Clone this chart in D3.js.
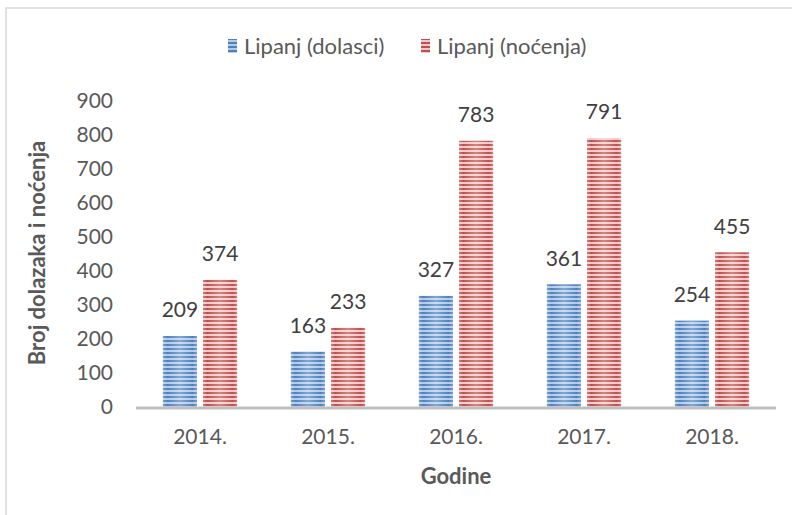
<!DOCTYPE html>
<html>
<head>
<meta charset="utf-8">
<script src="https://cdn.jsdelivr.net/npm/d3@7"></script>
<style>
    body { margin: 0; background: #fff; }
    svg { display: block; font-family: Lato, "Open Sans", sans-serif; }
</style>
</head>
<body>
<svg id="chart" width="792" height="515"></svg>
<script>
// data
var years = ['2014.', '2015.', '2016.', '2017.', '2018.'];
var seriesNames = ['Lipanj (dolasci)', 'Lipanj (noćenja)'];
var dolasci = [209, 163, 327, 361, 254];
var nocenja = [374, 233, 783, 791, 455];
var yTicks = [0, 100, 200, 300, 400, 500, 600, 700, 800, 900];

var colors = [
    { dark: '#4f81bd', light: '#b3cbea', id: 'pBlue' },
    { dark: '#c0504d', light: '#f0c9c8', id: 'pRed' }
];

var svg = d3.select('#chart');
var width = 792, height = 515;

// outer border (chart area)
svg.append('rect')
    .attr('x', 6).attr('y', 8)
    .attr('width', width).attr('height', height)
    .attr('fill', '#fff')
    .attr('stroke', '#d9d9d9')
    .attr('stroke-width', 1.5);

/*=========== striped fills ===========*/
var defs = svg.append('defs');
colors.forEach(function (c) {
    var grad = defs.append('linearGradient')
        .attr('id', c.id + 'g')
        .attr('x1', 0).attr('x2', 1).attr('y1', 0).attr('y2', 0);
    grad.append('stop').attr('offset', '0%').attr('stop-color', '#fff').attr('stop-opacity', 0.25);
    grad.append('stop').attr('offset', '12%').attr('stop-color', '#fff').attr('stop-opacity', 0.0);
    grad.append('stop').attr('offset', '50%').attr('stop-color', '#fff').attr('stop-opacity', 0.3);
    grad.append('stop').attr('offset', '88%').attr('stop-color', '#fff').attr('stop-opacity', 0.0);
    grad.append('stop').attr('offset', '100%').attr('stop-color', '#fff').attr('stop-opacity', 0.25);

    var pat = defs.append('pattern')
        .attr('id', c.id)
        .attr('patternUnits', 'userSpaceOnUse')
        .attr('width', 10).attr('height', 4);
    pat.append('rect').attr('width', 10).attr('height', 4).attr('fill', c.light);
    pat.append('rect').attr('width', 10).attr('height', 2).attr('fill', c.dark);
});

/*=========== scales ===========*/
var x = d3.scaleBand()
    .domain(years)
    .range([136, 776])
    .paddingInner(0.42)
    .paddingOuter(0.21);

var xInner = d3.scaleBand()
    .domain([0, 1])
    .range([0, x.bandwidth()])
    .paddingInner(0.15);

var y = d3.scaleLinear()
    .domain([0, 900])
    .range([407, 101]);

/*=========== y tick labels ===========*/
svg.append('g').selectAll('text')
    .data(yTicks)
    .enter().append('text')
        .attr('x', 113)
        .attr('y', function (d) { return y(d); })
        .attr('dy', '0.35em')
        .attr('text-anchor', 'end')
        .attr('font-size', '21px')
        .attr('fill', '#595959')
        .text(function (d) { return d; });

/*=========== bars ===========*/
var rows = years.map(function (yr, i) {
    return { year: yr, values: [dolasci[i], nocenja[i]] };
});

var groups = svg.append('g').selectAll('g.year')
    .data(rows)
    .enter().append('g')
        .attr('class', 'year')
        .attr('transform', function (d) { return 'translate(' + x(d.year) + ',0)'; });

var bars = groups.selectAll('g.bar')
    .data(function (d) {
        return d.values.map(function (v, k) { return { k: k, value: v }; });
    })
    .enter().append('g')
        .attr('class', 'bar');

bars.append('rect')
    .attr('x', function (d) { return xInner(d.k); })
    .attr('y', function (d) { return y(d.value); })
    .attr('width', xInner.bandwidth())
    .attr('height', function (d) { return y(0) - y(d.value); })
    .attr('fill', function (d) { return 'url(#' + colors[d.k].id + ')'; });

bars.append('rect')
    .attr('x', function (d) { return xInner(d.k); })
    .attr('y', function (d) { return y(d.value); })
    .attr('width', xInner.bandwidth())
    .attr('height', function (d) { return y(0) - y(d.value); })
    .attr('fill', function (d) { return 'url(#' + colors[d.k].id + 'g)'; });

// data labels
bars.append('text')
    .attr('x', function (d) { return xInner(d.k) + xInner.bandwidth() / 2; })
    .attr('y', function (d) { return y(d.value) - 26; })
    .attr('dy', '0.35em')
    .attr('text-anchor', 'middle')
    .attr('font-size', '21px')
    .attr('fill', '#404040')
    .text(function (d) { return d.value; });

/*=========== x axis ===========*/
svg.append('line')
    .attr('x1', 136).attr('x2', 776)
    .attr('y1', y(0) + 1).attr('y2', y(0) + 1)
    .attr('stroke', '#bfbfbf')
    .attr('stroke-width', 3);

svg.append('g').selectAll('text')
    .data(years)
    .enter().append('text')
        .attr('x', function (d) { return x(d) + x.bandwidth() / 2; })
        .attr('y', 437)
        .attr('dy', '0.35em')
        .attr('text-anchor', 'middle')
        .attr('font-size', '21px')
        .attr('fill', '#595959')
        .text(function (d) { return d; });

/*=========== axis titles ===========*/
svg.append('text')
    .attr('x', 456).attr('y', 476)
    .attr('dy', '0.35em')
    .attr('text-anchor', 'middle')
    .attr('font-size', '22px')
    .attr('font-weight', 'bold')
    .attr('fill', '#595959')
    .text('Godine');

svg.append('text')
    .attr('transform', 'translate(37,253) rotate(-90)')
    .attr('dy', '0.35em')
    .attr('text-anchor', 'middle')
    .attr('font-size', '22px')
    .attr('font-weight', 'bold')
    .attr('fill', '#595959')
    .text('Broj dolazaka i noćenja');

/*=========== legend ===========*/
var legendX = [228, 421];
var legend = svg.append('g').selectAll('g.legend')
    .data(seriesNames)
    .enter().append('g')
        .attr('class', 'legend')
        .attr('transform', function (d, i) { return 'translate(' + legendX[i] + ',46)'; });

legend.append('rect')
    .attr('x', 0).attr('y', -7)
    .attr('width', 9).attr('height', 14)
    .attr('fill', function (d, i) { return 'url(#' + colors[i].id + ')'; });

legend.append('text')
    .attr('x', 16)
    .attr('dy', '0.35em')
    .attr('font-size', '22px')
    .attr('fill', '#595959')
    .text(function (d) { return d; });
</script>
</body>
</html>
